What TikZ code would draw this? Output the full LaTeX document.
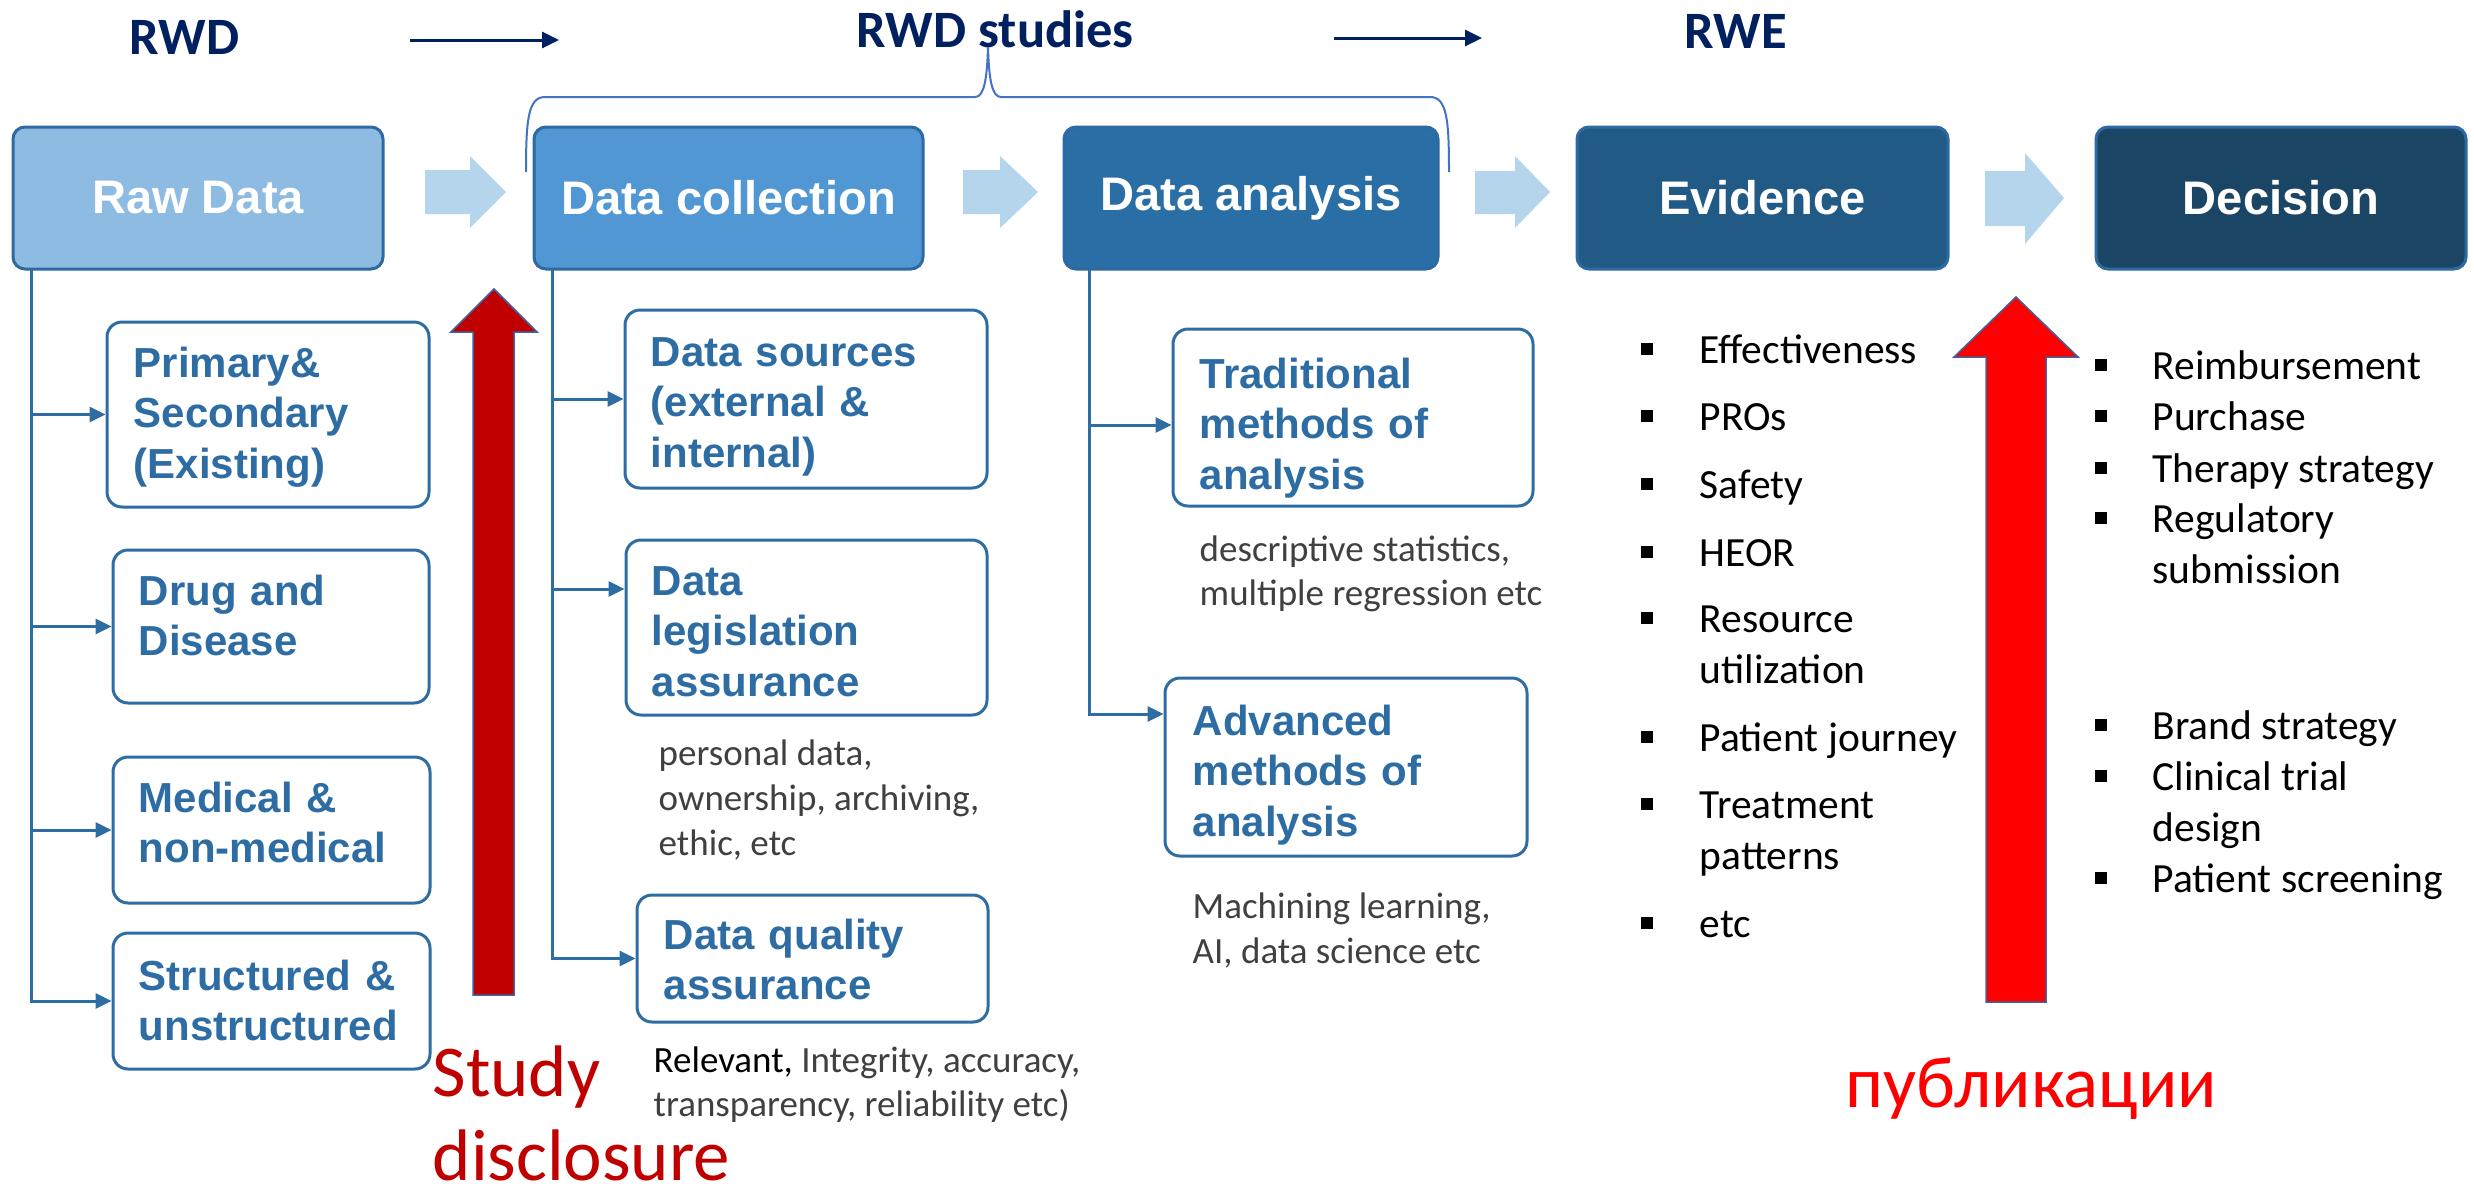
\documentclass[tikz,border=0pt]{standalone}
\usepackage{fontspec}
\setmainfont{Carlito}
\newfontfamily\arialfam{Liberation Sans}
\usetikzlibrary{arrows.meta,calc}
\definecolor{navy}{HTML}{002060}
\definecolor{rawfill}{HTML}{8DBBE2}
\definecolor{colfill}{HTML}{5097D3}
\definecolor{anafill}{HTML}{2A6EA6}
\definecolor{evifill}{HTML}{225A86}
\definecolor{decfill}{HTML}{1B4565}
\definecolor{mainborder}{HTML}{2E6AA1}
\definecolor{subblue}{HTML}{2E6DA4}
\definecolor{blockarrow}{HTML}{B4D5EC}
\definecolor{darkred}{HTML}{C00000}
\definecolor{brightred}{HTML}{FF0000}
\definecolor{redborder}{HTML}{41609E}
\definecolor{greytext}{HTML}{404040}
\definecolor{bracecol}{HTML}{4472C4}
\tikzset{
  mainbox/.style={rounded corners=1.2mm, draw=mainborder, line width=0.3mm, text=white,
    font={\arialfam\bfseries\fontsize{13.4pt}{16pt}\selectfont}, minimum height=14.2mm, inner sep=0pt},
  subbox/.style={rounded corners=1.5mm, draw=subblue, line width=0.3mm, inner sep=0pt},
  boxtext/.style={anchor=base west, inner sep=0pt, text=subblue, text width=30mm, align=left,
    font={\arialfam\bfseries\fontsize{11.95pt}{14.5pt}\selectfont}},
  conn/.style={draw=subblue, line width=0.3mm, -{Triangle[length=1.6mm,width=1.5mm]}},
  toparrow/.style={draw=navy, line width=0.3mm, -{Triangle[length=1.7mm,width=1.6mm]}},
  greytxt/.style={anchor=base west, inner sep=0pt, text=greytext, font={\fontsize{10.53pt}{12.8pt}\selectfont}},
  listitem/.style={anchor=base west, inner sep=0pt, text=black, font={\fontsize{11.81pt}{14.5pt}\selectfont}},
  toplabel/.style={anchor=base west, inner sep=0pt, text=navy, font={\bfseries\fontsize{14.94pt}{18pt}\selectfont}},
  biglabel/.style={anchor=base west, inner sep=0pt, text depth=0pt, font={\fontsize{20.77pt}{25pt}\selectfont}},
  blockarr/.style={fill=blockarrow},
  bullet/.style={fill=black}
}
\begin{document}
\begin{tikzpicture}[x=0.1mm,y=-0.1mm]
\useasboundingbox (0,0) rectangle (2474,1199);
\fill[white] (0,0) rectangle (2474,1199);

% top labels
\node[toplabel] (rwd) at (129,54) {RWD};
\node[toplabel] (rwds) at (856,47) {RWD studies};
\node[toplabel] (rwe) at (1684,48) {RWE};
\coordinate (ta1s) at (410,40);
\coordinate (ta1e) at (559,40);
\coordinate (ta2s) at (1334,38);
\coordinate (ta2e) at (1482,38);
\draw[toparrow] (ta1s) -- (ta1e);
\draw[toparrow] (ta2s) -- (ta2e);

% brace
\draw[bracecol, line width=0.2mm]
  (526,172) .. controls (526,120) and (528,97) .. (545,97) -- (975,97)
  .. controls (984,97) and (987,80) .. (988,47)
  .. controls (989,80) and (992,97) .. (1001,97) -- (1430,97)
  .. controls (1447,97) and (1449,120) .. (1449,172);

% main boxes
\node[mainbox, fill=rawfill, minimum width=37mm] (raw) at (198,198) {Raw Data};
\node[mainbox, fill=colfill, minimum width=38.9mm] (coll) at (728.5,198) {Data collection};
\node[mainbox, fill=anafill, minimum width=37.4mm] (ana) at (1251,198) {Data analysis};
\node[mainbox, fill=evifill, minimum width=37.1mm] (evi) at (1762.5,198) {Evidence};
\node[mainbox, fill=decfill, minimum width=37mm] (dec) at (2281,198) {Decision};

% block arrows
\fill[blockarr] (425,170) -- (470,170) -- (470,156) -- (506,192) -- (470,228) -- (470,214) -- (425,214) -- cycle;
\fill[blockarr] (963,170) -- (1000,170) -- (1000,156) -- (1038,192) -- (1000,228) -- (1000,214) -- (963,214) -- cycle;
\fill[blockarr] (1475,171) -- (1515,171) -- (1515,156) -- (1550,192) -- (1515,228) -- (1515,214) -- (1475,214) -- cycle;
\fill[blockarr] (1985,171) -- (2025,171) -- (2025,153) -- (2064,198) -- (2025,244) -- (2025,226) -- (1985,226) -- cycle;

% red arrows
\filldraw[fill=darkred, draw=redborder, line width=0.15mm]
  (473,995) -- (473,332) -- (451,332) -- (494,289) -- (537,332) -- (514,332) -- (514,995) -- cycle;
\filldraw[fill=brightred, draw=redborder, line width=0.15mm]
  (1986,1002) -- (1986,357) -- (1954,357) -- (2016,297) -- (2078,357) -- (2046,357) -- (2046,1002) -- cycle;

% column 1 sub boxes
\node[subbox, minimum width=32.2mm, minimum height=18.5mm] (prim) at (268,414.5) {};
\node[subbox, minimum width=31.6mm, minimum height=15.3mm] (drug) at (271,626.5) {};
\node[subbox, minimum width=31.7mm, minimum height=14.6mm] (med) at (271.5,830) {};
\node[subbox, minimum width=31.7mm, minimum height=13.6mm] (struct) at (271.5,1001) {};
\node[boxtext] (primtxt) at (133,377) {Primary\&\\Secondary\\(Existing)};
\node[boxtext] (drugtxt) at (138,605) {Drug and\\Disease};
\node[boxtext] (medtxt) at (138,812) {Medical \&\\non-medical};
\node[boxtext] (structtxt) at (138,990) {Structured \&\\unstructured};

\coordinate (t1) at (31,269);
\draw[conn] (t1) |- (struct.west);
\draw[conn] (t1 |- prim.west) -- (prim.west);
\draw[conn] (t1 |- drug.west) -- (drug.west);
\draw[conn] (t1 |- med.west) -- (med.west);

% column 2 sub boxes
\node[subbox, minimum width=36.2mm, minimum height=17.8mm] (src) at (806,399) {};
\node[subbox, minimum width=36.1mm, minimum height=17.5mm] (leg) at (806.5,627.5) {};
\node[subbox, minimum width=35.1mm, minimum height=12.7mm] (qual) at (812.5,958.5) {};
\node[boxtext] (srctxt) at (650,366) {Data sources\\(external \&\\internal)};
\node[boxtext] (legtxt) at (651,595) {Data\\legislation\\assurance};
\node[boxtext] (qualtxt) at (663,949) {Data quality\\assurance};

\coordinate (t2) at (552,269);
\coordinate (legin) at ([yshift=3.85mm]leg.west);
\draw[conn] (t2) |- (qual.west);
\draw[conn] (t2 |- src.west) -- (src.west);
\draw[conn] (t2 |- legin) -- (legin);

\node[greytxt] (leg1) at (658,765) {personal data,};
\node[greytxt] (leg2) at (658,810) {ownership, archiving,};
\node[greytxt] (leg3) at (658,855) {ethic, etc};
\node[greytxt] (qual1) at (653,1072) {{\color{black}Relevant,} Integrity, accuracy,};
\node[greytxt] (qual2) at (653,1116) {transparency, reliability etc)};

% column 3 sub boxes
\node[subbox, minimum width=36mm, minimum height=17.7mm] (trad) at (1353,417.5) {};
\node[subbox, minimum width=36.2mm, minimum height=17.8mm] (adv) at (1346,767) {};
\node[boxtext] (tradtxt) at (1199,388) {Traditional\\methods of\\analysis};
\node[boxtext] (advtxt) at (1192,735) {Advanced\\methods of\\analysis};

\coordinate (t3) at (1089,270);
\coordinate (advin) at ([yshift=5.3mm]adv.west);
\coordinate (tradin) at ([yshift=-0.75mm]trad.west);
\draw[conn] (t3) |- (advin);
\draw[conn] (t3 |- tradin) -- (tradin);

\node[greytxt] (trad1) at (1199,561) {descriptive statistics,};
\node[greytxt] (trad2) at (1199,605) {multiple regression etc};
\node[greytxt] (adv1) at (1192,918) {Machining learning,};
\node[greytxt] (adv2) at (1192,963) {AI, data science etc};

% evidence list
\foreach \b in {363,430,498,566,632,751,818,937}
  \fill[bullet] (1641,\b-20) rectangle (1653,\b-8);
\node[listitem] (e1) at (1699,363) {Effectiveness};
\node[listitem] (e2) at (1699,430) {PROs};
\node[listitem] (e3) at (1699,498) {Safety};
\node[listitem] (e4) at (1699,566) {HEOR};
\node[listitem] (e5a) at (1699,632) {Resource};
\node[listitem] (e5b) at (1699,683) {utilization};
\node[listitem] (e6) at (1699,751) {Patient journey};
\node[listitem] (e7a) at (1699,818) {Treatment};
\node[listitem] (e7b) at (1699,869) {patterns};
\node[listitem] (e8) at (1699,937) {etc};

% decision list
\foreach \b in {379,430,482,532,739,790,892}
  \fill[bullet] (2095,\b-20) rectangle (2107,\b-8);
\node[listitem] (d1) at (2152,379) {Reimbursement};
\node[listitem] (d2) at (2152,430) {Purchase};
\node[listitem] (d3) at (2152,482) {Therapy strategy};
\node[listitem] (d4a) at (2152,532) {Regulatory};
\node[listitem] (d4b) at (2152,583) {submission};
\node[listitem] (d5) at (2152,739) {Brand strategy};
\node[listitem] (d6a) at (2152,790) {Clinical trial};
\node[listitem] (d6b) at (2152,841) {design};
\node[listitem] (d7) at (2152,892) {Patient screening};

% big labels
\node[biglabel, text=darkred] (study1) at (432,1096) {Study};
\node[biglabel, text=darkred] (study2) at (432,1180) {disclosure};
\node[biglabel, text=brightred] (publ) at (1845,1107) {публикации};
\end{tikzpicture}
\end{document}
